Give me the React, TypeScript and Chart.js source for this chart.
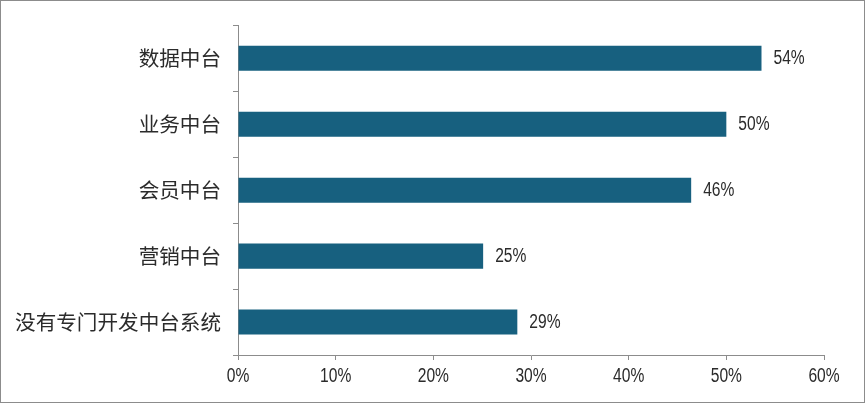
import React, { useEffect, useRef } from "react";
import { Chart, registerables } from "chart.js";

Chart.register(...registerables);

const categories = ["数据中台", "业务中台", "会员中台", "营销中台", "没有专门开发中台系统"];
const values = [53.6, 50.0, 46.4, 25.1, 28.6];
const xTicks = [0, 10, 20, 30, 40, 50, 60];

const BAR_COLOR = "#17607f";
const AXIS_COLOR = "#8c8c8c";
const TEXT_COLOR = "#2b2b2b";
const CJK_FONT = "'Noto Sans CJK SC', 'Noto Sans', sans-serif";
const NUM_FONT = "'Liberation Sans', Arial, sans-serif";
const NARROW = 0.78;

function drawNarrow(ctx: any, text: string, x: number, y: number, align: "left" | "center") {
  ctx.save();
  ctx.translate(x, y);
  ctx.scale(NARROW, 1);
  ctx.textAlign = align;
  ctx.textBaseline = "middle";
  ctx.fillText(text, 0, 0);
  ctx.restore();
}

const narrowLabels = {
  id: "narrowLabels",
  afterDraw(chart: any) {
    const ctx = chart.ctx;
    ctx.save();
    ctx.fillStyle = TEXT_COLOR;
    ctx.font = `20px ${NUM_FONT}`;
    const meta = chart.getDatasetMeta(0);
    meta.data.forEach((bar: any, i: number) => {
      drawNarrow(ctx, `${Math.round(values[i])}%`, bar.x + 12, bar.y, "left");
    });
    const xs = chart.scales.x;
    xs.ticks.forEach((t: any) => {
      drawNarrow(ctx, `${t.value}%`, xs.getPixelForValue(t.value), xs.top + 21, "center");
    });
    ctx.restore();
  },
};

export default function App() {
  const ref = useRef<HTMLCanvasElement>(null);
  useEffect(() => {
    document.body.style.margin = "0";
    const chart = new Chart(ref.current!, {
      type: "bar",
      data: {
        labels: categories,
        datasets: [
          {
            data: values,
            backgroundColor: BAR_COLOR,
            barPercentage: 0.76,
            categoryPercentage: 0.5,
          },
        ],
      },
      options: {
        indexAxis: "y",
        animation: false,
        responsive: false,
        layout: { padding: { top: 19, right: 40, bottom: 0, left: 0 } },
        plugins: { legend: { display: false }, tooltip: { enabled: false } },
        scales: {
          x: {
            min: 0,
            max: 60,
            afterFit: (s: any) => {
              s.height = 47;
            },
            afterBuildTicks: (s: any) => {
              s.ticks = xTicks.map((v) => ({ value: v }));
            },
            ticks: {
              callback: (v: any) => `${v}%`,
              color: "rgba(0,0,0,0)",
              font: { family: NUM_FONT, size: 18 },
              padding: 4,
              maxRotation: 0,
            },
            grid: {
              drawOnChartArea: false,
              drawTicks: true,
              tickLength: 5,
              color: AXIS_COLOR,
            },
            border: { color: AXIS_COLOR, width: 1 },
          },
          y: {
            afterFit: (s: any) => {
              s.width = 237;
            },
            ticks: {
              color: TEXT_COLOR,
              font: { family: CJK_FONT, size: 20.6 },
              padding: 12,
            },
            grid: {
              offset: true,
              drawOnChartArea: false,
              drawTicks: true,
              tickLength: 5,
              color: AXIS_COLOR,
            },
            border: { color: AXIS_COLOR, width: 1 },
          },
        },
      },
      plugins: [narrowLabels],
    });
    return () => chart.destroy();
  }, []);
  return (
    <div
      style={{
        width: 865,
        height: 403,
        boxSizing: "border-box",
        border: "1px solid #8c8c8c",
        background: "#fff",
      }}
    >
      <canvas ref={ref} width={863} height={401} style={{ display: "block" }} />
    </div>
  );
}
